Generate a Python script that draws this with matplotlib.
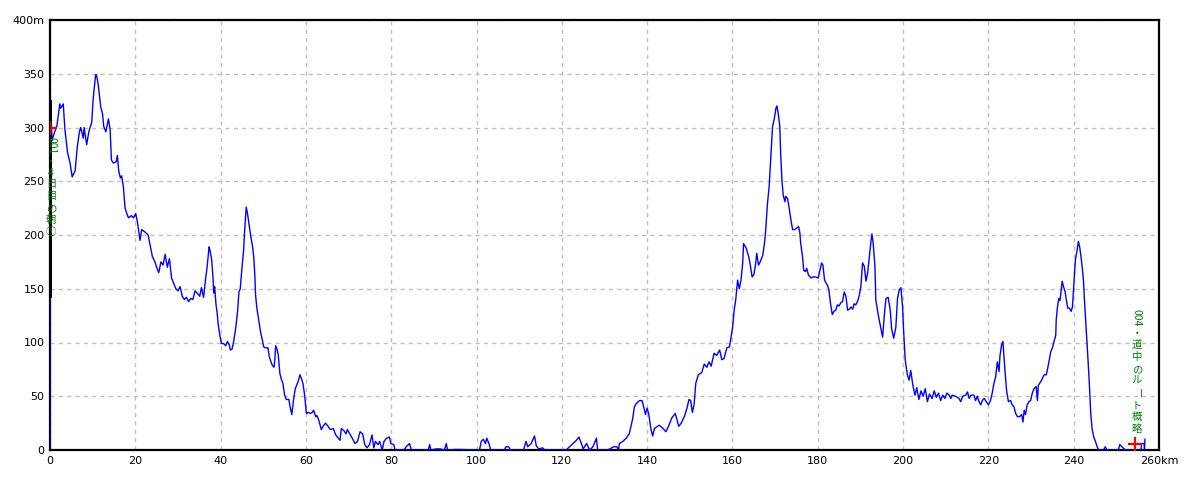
import matplotlib
matplotlib.use('Agg')
import matplotlib.pyplot as plt
from matplotlib.ticker import FixedLocator, FuncFormatter

# distance (km) / elevation (m)
KM = [
	0, 0, 0.5, 1.0, 1.6, 2.3, 2.5, 3.1, 3.5, 4.1, 4.7, 5.2, 5.9, 6.4, 6.9, 7.2, 7.8, 8.0, 8.6, 9.1,
	9.8, 10.1, 10.7, 10.9, 11.3, 11.9, 12.3, 12.6, 13.1, 13.7, 14.1, 14.4, 14.8, 15.5, 15.8, 16.1, 16.5, 16.8, 17.2, 17.6,
	18.0, 18.4, 19.1, 19.6, 20.1, 20.5, 21.1, 21.5, 22.2, 23.0, 23.5, 24.0, 24.6, 25.0, 25.5, 26.0, 26.5, 27.0, 27.5, 28.0,
	28.5, 29.0, 29.5, 30.0, 30.5, 31.0, 31.5, 32.0, 32.5, 33.0, 33.5, 34.0, 34.5, 35.1, 35.5, 36.0, 36.5, 36.8, 37.3, 37.5,
	37.9, 38.2, 38.4, 38.6, 38.9, 39.2, 39.4, 39.8, 40.2, 40.7, 41.2, 41.6, 42.0, 42.3, 42.7, 43.1, 43.6, 44.0, 44.3, 44.6,
	45.0, 45.4, 45.6, 46.0, 46.3, 46.6, 46.8, 47.1, 47.5, 47.8, 48.0, 48.2, 48.5, 49.0, 49.4, 49.8, 50.1, 50.5, 51.1, 51.4,
	51.8, 52.1, 52.5, 52.7, 52.9, 53.2, 53.5, 53.9, 54.3, 54.6, 55.0, 55.4, 56.0, 56.3, 56.7, 57.1, 57.5, 58.2, 58.6, 58.9,
	59.3, 59.7, 60.1, 60.5, 61.1, 61.5, 61.8, 62.3, 62.6, 63.0, 63.6, 64.0, 64.6, 65.2, 65.7, 66.4, 67.0, 67.6, 68.0, 68.3,
	68.9, 69.4, 69.7, 70.3, 71.0, 71.5, 72.1, 72.7, 73.3, 73.8, 74.3, 74.9, 75.5, 75.9, 76.3, 76.9, 77.3, 77.9, 78.3, 78.9,
	79.6, 79.9, 80.6, 80.9, 83.0, 83.5, 84.3, 84.7, 88.7, 89.0, 89.3, 90.5, 91.5, 92.5, 92.9, 93.2, 95.0, 96.0, 100.7, 101.1,
	101.6, 102.1, 102.4, 103.0, 103.3, 106.5, 106.9, 107.5, 108.0, 111.0, 111.6, 112.0, 112.8, 113.6, 114.0, 114.6, 115.5, 116.0, 121.0, 121.8,
	122.6, 123.4, 124.0, 124.5, 125.0, 125.8, 126.5, 127.3, 128.1, 128.4, 130.5, 131.3, 132.1, 132.9, 133.3, 133.5, 134.3, 135.1, 135.8, 136.2,
	136.6, 137.0, 137.4, 138.2, 138.8, 139.2, 139.6, 140.0, 140.4, 140.9, 141.3, 141.7, 142.8, 143.5, 144.4, 145.0, 145.8, 146.6, 147.0, 147.4,
	148.0, 148.8, 149.4, 149.8, 150.2, 150.6, 151.0, 151.4, 152.0, 152.8, 153.4, 154.0, 154.5, 155.0, 155.7, 156.3, 157.0, 157.5, 158.0, 158.7,
	159.3, 160.0, 160.4, 160.8, 161.2, 161.6, 162.0, 162.4, 162.6, 163.2, 163.8, 164.1, 164.6, 165.0, 165.4, 165.7, 166.1, 166.5, 167.1, 167.5,
	167.8, 168.2, 168.6, 169.0, 169.4, 169.8, 170.2, 170.4, 170.7, 171.1, 171.3, 171.6, 171.9, 172.3, 172.5, 172.9, 173.3, 173.7, 174.1, 174.5,
	175.0, 175.5, 175.8, 176.0, 176.4, 176.7, 177.1, 177.4, 177.8, 178.4, 178.9, 179.5, 180.1, 180.5, 180.9, 181.2, 181.6, 182.0, 182.3, 182.6,
	183.0, 183.4, 183.8, 184.2, 184.6, 185.0, 185.4, 185.8, 186.2, 186.6, 187.0, 187.4, 187.8, 188.2, 188.5, 188.9, 189.3, 189.7, 190.1, 190.5,
	190.9, 191.3, 191.7, 192.1, 192.5, 192.7, 193.0, 193.4, 193.6, 194.0, 194.4, 194.8, 195.2, 195.7, 196.0, 196.5, 197.0, 197.3, 197.8, 198.3,
	198.7, 199.1, 199.5, 199.9, 200.1, 200.5, 201.0, 201.4, 201.8, 202.3, 202.8, 203.2, 203.7, 204.2, 204.7, 205.2, 205.7, 206.2, 206.8, 207.3,
	207.8, 208.3, 208.8, 209.3, 209.8, 210.3, 210.8, 211.2, 211.5, 212.3, 213.1, 213.5, 214.0, 214.7, 215.1, 215.5, 215.9, 216.6, 217.0, 217.4,
	217.8, 218.2, 218.6, 219.0, 219.5, 220.0, 220.5, 220.9, 221.3, 221.7, 222.1, 222.5, 222.7, 223.1, 223.4, 223.7, 224.0, 224.3, 224.7, 225.2,
	225.6, 226.0, 226.4, 226.8, 227.3, 227.8, 228.1, 228.4, 228.7, 229.1, 229.5, 229.9, 230.3, 230.7, 231.2, 231.5, 231.7, 232.0, 232.5, 232.8,
	233.1, 233.6, 233.9, 234.2, 234.6, 235.0, 235.4, 235.8, 235.9, 236.2, 236.5, 236.8, 237.1, 237.3, 237.6, 238.0, 238.3, 238.6, 239.0, 239.4,
	239.7, 239.9, 240.2, 240.4, 240.8, 241.1, 241.4, 241.7, 242.0, 242.3, 242.5, 242.8, 243.1, 243.4, 243.7, 244.0, 244.3, 244.7, 245.1, 245.5,
	245.9, 247.0, 247.4, 247.8, 250.5, 250.8, 251.3, 252.1, 255.8, 255.9, 256.5, 256.6, 256.7,
]
ELEV = [
	0, 324, 288, 295, 301, 322, 318, 322, 298, 277, 267, 254, 260, 282, 296, 300, 290, 300, 284, 296,
	305, 326, 349, 349, 340, 319, 313, 301, 296, 308, 298, 270, 267, 268, 274, 260, 253, 255, 245, 225,
	220, 216, 218, 216, 220, 212, 195, 205, 203, 200, 190, 180, 175, 170, 165, 175, 172, 182, 170, 178,
	160, 155, 150, 148, 152, 143, 140, 142, 138, 141, 140, 148, 146, 143, 151, 142, 160, 169, 189, 186,
	177, 161, 146, 152, 136, 127, 118, 107, 99, 99, 97, 101, 98, 93, 94, 102, 115, 130, 147, 150,
	169, 186, 202, 226, 220, 212, 206, 198, 189, 178, 164, 144, 132, 119, 109, 102, 96, 95, 95, 87,
	82, 79, 77, 83, 97, 94, 89, 71, 65, 62, 51, 47, 47, 40, 33, 47, 57, 64, 70, 67,
	62, 51, 34, 35, 34, 35, 37, 31, 32, 28, 19, 22, 25, 22, 19, 20, 14, 11, 9, 20,
	18, 15, 19, 15, 10, 6, 8, 17, 15, 5, 2, 5, 14, 2, 8, 5, 8, 0, 8, 11,
	12, 6, 5, 0, 0, 3, 6, 0, 0, 5, 0, 1, 1, 0, 6, 0, 0.5, 0.5, 0, 8,
	10, 6, 11, 5, 0, 0, 3, 3, 0, 0, 8, 3, 6, 13, 4, 1, 2, 0, 0, 3,
	6, 9, 12, 7, 1, 6, 0, 3, 11, 0, 0, 1, 3, 3, 0, 6, 8, 11, 15, 22,
	29, 40, 43, 46, 46, 40, 33, 39, 33, 19, 13, 20, 23, 21, 17, 22, 30, 34, 28, 22,
	25, 32, 40, 47, 46, 35, 42, 62, 70, 72, 80, 77, 82, 78, 90, 88, 93, 84, 85, 95,
	96, 113, 130, 141, 158, 150, 158, 174, 192, 188, 180, 174, 161, 163, 172, 183, 172, 175, 181, 192,
	205, 229, 245, 273, 301, 308, 318, 320, 314, 301, 276, 251, 237, 231, 236, 234, 225, 214, 205, 205,
	206, 208, 202, 192, 181, 167, 166, 169, 163, 160, 161, 161, 160, 167, 174, 172, 158, 155, 153, 149,
	136, 126, 129, 130, 135, 134, 137, 138, 147, 143, 130, 131, 133, 131, 136, 135, 138, 143, 152, 174,
	171, 157, 165, 180, 195, 201, 192, 171, 140, 130, 121, 113, 105, 130, 141, 142, 130, 113, 104, 114,
	141, 149, 151, 132, 113, 84, 70, 65, 74, 60, 51, 58, 47, 55, 50, 57, 45, 52, 48, 55,
	49, 53, 46, 51, 48, 53, 51, 48, 51, 50, 48, 45, 50, 51, 54, 48, 51, 51, 46, 50,
	45, 42, 46, 48, 45, 42, 46, 53, 62, 68, 82, 73, 87, 98, 101, 84, 68, 54, 45, 46,
	42, 40, 34, 31, 31, 33, 26, 37, 33, 42, 45, 46, 53, 57, 59, 46, 60, 62, 65, 68,
	70, 70, 76, 82, 91, 95, 101, 107, 121, 133, 141, 139, 150, 157, 152, 147, 139, 132, 132, 129,
	133, 146, 164, 177, 186, 194, 189, 180, 170, 157, 141, 121, 102, 81, 59, 34, 20, 12, 8, 3,
	0, 0, 3, 0, 0, 5, 3, 0, 0, 6, 6, 0, 10,
]

X_TICKS = list(range(0, 261, 20))
Y_TICKS = list(range(0, 401, 50))

# waypoints: red crosses and their vertical captions
WP_KM = [0, 254.3]
WP_ELEV = [300, 5.5]
LABEL_LEFT = [('001', True), ('・', False), ('4', False), ('日目の朝①', False)]
LABEL_RIGHT = [('004', True), ('・', False), ('道中の', False), ('ル', False), ('ー', True), ('ト概略', False)]

fig = plt.figure(figsize=(12, 4.8), dpi=100)
ax = fig.add_axes([50 / 1200, 30 / 480, 1109 / 1200, 430 / 480])

ax.plot(KM, ELEV, color='#0000ff', lw=1.0, zorder=3)
ax.plot([0, 0], [143, 325], color='black', lw=2.2, zorder=4)
ax.plot(WP_KM, WP_ELEV, '+', color='#ff0000', ms=10, mew=1.6, zorder=5)

ax.set_xlim(0, 260)
ax.set_ylim(0, 400)
ax.xaxis.set_major_locator(FixedLocator(X_TICKS))
ax.yaxis.set_major_locator(FixedLocator(Y_TICKS))
ax.xaxis.set_major_formatter(FuncFormatter(lambda v, p: '%dkm' % v if v == 260 else '%d' % v))
ax.yaxis.set_major_formatter(FuncFormatter(lambda v, p: '%dm' % v if v == 400 else '%d' % v))
ax.tick_params(length=0, labelsize=8, pad=4, colors='black')
ax.grid(True, color='#c0c0c0', linestyle=(0, (3, 3)), linewidth=1)
ax.set_axisbelow(True)
for s in ax.spines.values():
	s.set_linewidth(1.6)
	s.set_color('black')

CJK = ['Noto Sans CJK JP', 'DejaVu Sans']
FS = 7.5


def vtext(x, y, parts):
	# vertical (tategaki) caption: upright kana/kanji, rotated latin digits
	off = 0.0
	for s, rot in parts:
		if rot:
			ax.annotate(s, (x, y), xytext=(0, -off * 0.72), textcoords='offset points',
						rotation=-90, ha='center', va='top', fontsize=FS, color='#008000',
						family=CJK, zorder=6)
			off += 6.0 * len(s) + 2 if s.isdigit() else 12.0
		else:
			for ch in s:
				ax.annotate(ch, (x, y), xytext=(0, -off * 0.72), textcoords='offset points',
							ha='center', va='top', fontsize=FS, color='#008000',
							family=CJK, zorder=6)
				off += 11.0 if ch in '・4' else 12.0


vtext(0.25, 291, LABEL_LEFT)
vtext(254.8, 131, LABEL_RIGHT)

fig.savefig('out.png', dpi=100)
